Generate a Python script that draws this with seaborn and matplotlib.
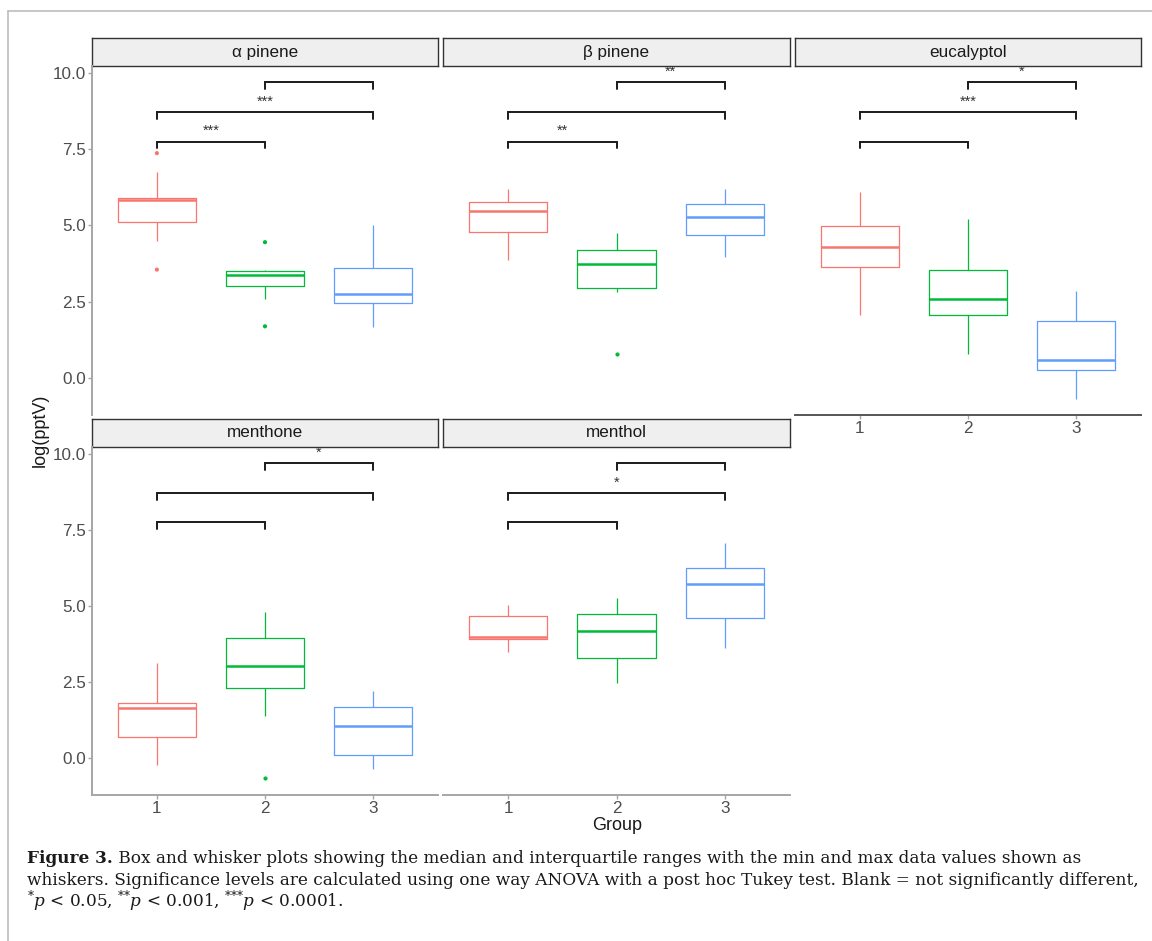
import numpy as np
import pandas as pd
import matplotlib.pyplot as plt
import matplotlib as mpl
from matplotlib.lines import Line2D
import seaborn as sns

sns.set_style('white')
mpl.rcParams['font.family'] = ['Liberation Sans', 'DejaVu Sans']
mpl.rcParams['mathtext.fontset'] = 'custom'
mpl.rcParams['mathtext.rm'] = 'DejaVu Serif'
mpl.rcParams['mathtext.it'] = 'DejaVu Serif:italic'

# ---------------- data ----------------
compounds = ['α pinene', 'β pinene', 'eucalyptol', 'menthone', 'menthol']
groups = ['1', '2', '3']
palette = dict(zip(groups, ['#F8766D', '#00BA38', '#619CFF']))

# per group: lower whisker, q1, median, q3, upper whisker
a_pinene = [[4.50, 5.10, 5.82, 5.89, 6.74], [2.60, 3.00, 3.38, 3.52, 3.55], [1.68, 2.45, 2.75, 3.59, 5.00]]
b_pinene = [[3.85, 4.80, 5.46, 5.76, 6.20], [2.83, 2.96, 3.72, 4.18, 4.74], [3.98, 4.68, 5.26, 5.70, 6.18]]
eucalyptol = [[2.07, 3.65, 4.30, 4.97, 6.08], [0.79, 2.07, 2.60, 3.55, 5.20], [-0.69, 0.26, 0.59, 1.88, 2.86]]
menthone = [[-0.23, 0.69, 1.64, 1.81, 3.12], [1.38, 2.30, 3.02, 3.95, 4.80], [-0.36, 0.10, 1.05, 1.68, 2.20]]
menthol = [[3.49, 3.91, 3.98, 4.67, 5.03], [2.47, 3.29, 4.18, 4.74, 5.26], [3.62, 4.60, 5.72, 6.25, 7.07]]

# outlying points per group
a_pinene_out = [[7.37, 3.55], [4.45, 1.69], []]
b_pinene_out = [[], [0.79], []]
eucalyptol_out = [[], [], []]
menthone_out = [[], [-0.66], []]
menthol_out = [[], [], []]

# significance labels for pairs 1-2, 1-3, 2-3
pairs = [(0, 1), (0, 2), (1, 2)]
a_pinene_sig = ['***', '***', '']
b_pinene_sig = ['**', '', '**']
eucalyptol_sig = ['', '***', '*']
menthone_sig = ['', '', '*']
menthol_sig = ['', '*', '']

boxes = [a_pinene, b_pinene, eucalyptol, menthone, menthol]
outs = [a_pinene_out, b_pinene_out, eucalyptol_out, menthone_out, menthol_out]
sigs = [a_pinene_sig, b_pinene_sig, eucalyptol_sig, menthone_sig, menthol_sig]

bracket_y = [7.75, 8.72, 9.70]
tick_drop = 0.22

# ---------------- layout ----------------
W, H = 1152, 941
fig = plt.figure(figsize=(W / 100, H / 100), dpi=100)

cols_x = [(92, 438), (443, 790), (795, 1141)]
rows_y = [(66, 415), (447, 795)]
strip_h = 28
slots = [(0, 0), (0, 1), (0, 2), (1, 0), (1, 1)]
axis_col = '#a6a6a6'

for k, name in enumerate(compounds):
    r, c = slots[k]
    x0, x1 = cols_x[c]
    y0, y1 = rows_y[r]

    # facet strip (drawn below the panel so star labels can sit over its edge)
    sax = fig.add_axes([x0 / W, 1 - y0 / H, (x1 - x0) / W, strip_h / H], zorder=1)
    sax.set_facecolor('#efefef')
    sax.set_xticks([])
    sax.set_yticks([])
    for s in sax.spines.values():
        s.set_color('#333333')
        s.set_linewidth(1.0)
    sax.text(0.5, 0.5, name, ha='center', va='center', fontsize=12.3, color='#1a1a1a',
             transform=sax.transAxes)

    ax = fig.add_axes([x0 / W, 1 - y1 / H, (x1 - x0) / W, (y1 - y0) / H], zorder=2)
    ax.patch.set_alpha(0)

    df = pd.DataFrame([(g, v) for g, vals in zip(groups, boxes[k]) for v in vals],
                      columns=['group', 'value'])
    df_out = pd.DataFrame([(g, v) for g, vals in zip(groups, outs[k]) for v in vals],
                          columns=['group', 'value'])

    sns.boxplot(data=df, x='group', y='value', hue='group', order=groups, hue_order=groups,
                palette=palette, fill=False, whis=(0, 100), width=0.72, linewidth=0.9,
                showfliers=False, showcaps=False, legend=False, ax=ax,
                medianprops={'linewidth': 1.8})
    if len(df_out):
        sns.stripplot(data=df_out, x='group', y='value', hue='group', order=groups,
                      hue_order=groups, palette=palette, jitter=False, size=3,
                      legend=False, ax=ax)

    for (i, j), h, lab in zip(pairs, bracket_y, sigs[k]):
        ax.plot([i, i, j, j], [h - tick_drop, h, h, h - tick_drop], color='#1a1a1a', lw=1.4,
                solid_joinstyle='miter')
        if lab:
            ax.text((i + j) / 2, h + 0.34, lab, ha='center', va='center', fontsize=10.5,
                    color='#333333', clip_on=False)

    ax.set_xlim(-0.6, 2.6)
    ax.set_ylim(-1.22, 10.23)
    ax.set_xlabel('')
    ax.set_ylabel('')
    for s in ax.spines.values():
        s.set_visible(False)

    show_y = c == 0
    show_x = (r == 1) or (k == 2)
    ax.set_yticks([0, 2.5, 5, 7.5, 10])
    ax.set_yticklabels(['0.0', '2.5', '5.0', '7.5', '10.0'] if show_y else [])
    ax.tick_params(axis='y', left=show_y, length=3, width=1, color=axis_col,
                   labelsize=12.3, labelcolor='#4d4d4d', pad=1.5)
    ax.tick_params(axis='x', bottom=show_x, length=3, width=1, color=axis_col,
                   labelsize=12.3, labelcolor='#4d4d4d', pad=1.5, labelbottom=show_x)
    if show_y:
        ax.spines['left'].set_visible(True)
        ax.spines['left'].set_color(axis_col)
        ax.spines['left'].set_linewidth(1.4)
    if show_x:
        ax.spines['bottom'].set_visible(True)
        ax.spines['bottom'].set_color('#555555' if k == 2 else axis_col)
        ax.spines['bottom'].set_linewidth(1.4)

fig.text(40 / W, 1 - 430 / H, 'log(pptV)', rotation=90, ha='center', va='center',
         fontsize=13, color='#1a1a1a')
fig.text(617 / W, 1 - 825 / H, 'Group', ha='center', va='center', fontsize=13, color='#1a1a1a')

# outer frame
fig.add_artist(Line2D([8 / W, 8 / W], [0, 1 - 11 / H], color='#bdbdbd', lw=1.2,
                      transform=fig.transFigure))
fig.add_artist(Line2D([8 / W, 1], [1 - 11 / H, 1 - 11 / H], color='#bdbdbd', lw=1.2,
                      transform=fig.transFigure))

# caption
cap_font = dict(family='DejaVu Serif', fontsize=12.15, color='#1a1a1a', va='baseline')
t1 = fig.text(27 / W, 1 - 863 / H, 'Figure 3.', weight='bold', **cap_font)
renderer = fig.canvas.get_renderer()
bb = t1.get_window_extent(renderer)
fig.text(bb.x1 / W, 1 - 863 / H, ' Box and whisker plots showing the median and interquartile '
         'ranges with the min and max data values shown as', **cap_font)
fig.text(27 / W, 1 - 885 / H, 'whiskers. Significance levels are calculated using one way ANOVA '
         'with a post hoc Tukey test. Blank = not significantly different,', **cap_font)
fig.text(27 / W, 1 - 907 / H, r'$^{{*}}p$ < 0.05, $^{{*}{*}}p$ < 0.001, $^{{*}{*}{*}}p$ < 0.0001.',
         **cap_font)

fig.savefig('out.png', dpi=100)
